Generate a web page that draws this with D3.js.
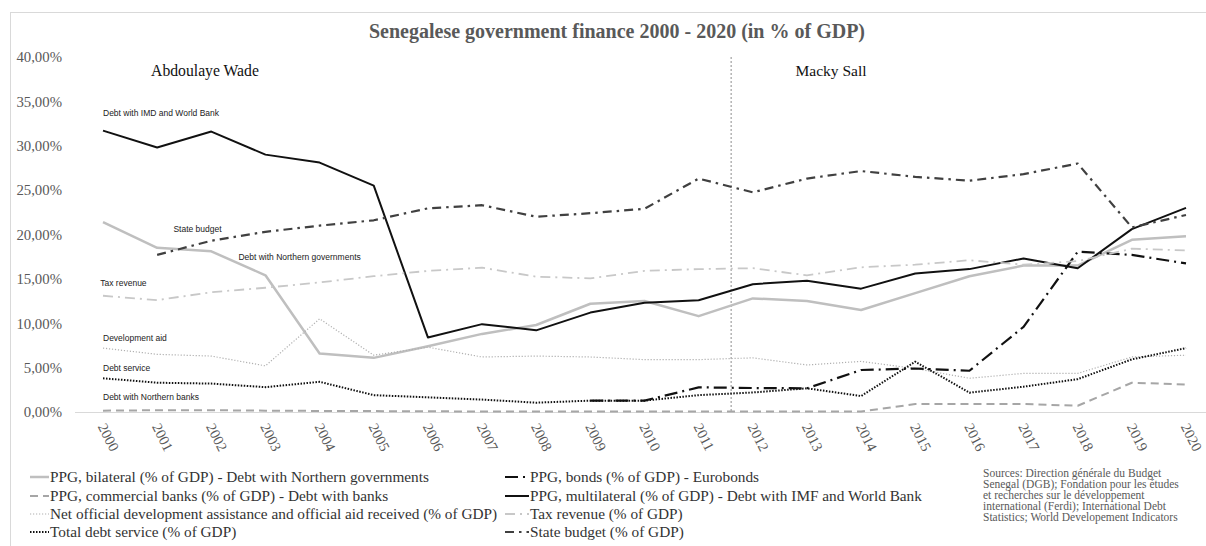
<!DOCTYPE html>
<html><head><meta charset="utf-8">
<script src="https://cdn.jsdelivr.net/npm/d3@7"></script>
<style>body{margin:0;background:#fff}svg{display:block}</style>
</head><body><svg id="c" width="1206" height="546"></svg>
<script>
const years = d3.range(2000, 2021);
const yTicks = [0, 5, 10, 15, 20, 25, 30, 35, 40];
const bilateral = [21.4,18.5,18.1,15.4,6.6,6.1,7.4,8.8,9.8,12.2,12.5,10.8,12.8,12.5,11.5,13.4,15.3,16.5,16.5,19.4,19.8];
const commercial = [0.15,0.2,0.2,0.15,0.12,0.1,0.08,0.06,0.05,0.05,0.05,0.05,0.05,0.05,0.05,0.9,0.9,0.9,0.7,3.3,3.1];
const devAid = [7.2,6.5,6.3,5.2,10.5,6.4,7.3,6.2,6.3,6.2,5.9,5.9,6.1,5.3,5.7,4.9,3.8,4.35,4.35,6.2,6.4];
const debtService = [3.8,3.3,3.2,2.8,3.4,1.9,1.65,1.4,1.05,1.28,1.28,1.9,2.2,2.67,1.8,5.67,2.18,2.85,3.7,5.93,7.2];
const eurobonds = [null,null,null,null,null,null,null,null,null,1.28,1.28,2.78,2.7,2.67,4.73,4.9,4.65,9.6,18.06,17.7,16.75];
const multilateral = [31.7,29.8,31.6,29.0,28.1,25.5,8.4,9.9,9.2,11.2,12.3,12.6,14.4,14.8,13.9,15.6,16.1,17.3,16.2,20.6,23.0];
const taxRevenue = [13.1,12.6,13.5,14.0,14.6,15.3,15.9,16.26,15.25,15.06,15.9,16.1,16.2,15.4,16.3,16.6,17.1,16.6,17.0,18.4,18.2];
const stateBudget = [null,17.7,19.3,20.3,21.0,21.6,22.95,23.3,22.0,22.4,22.9,26.3,24.75,26.3,27.15,26.5,26.06,26.8,28.0,20.8,22.2];

const seriesNames = [
  "PPG, bilateral (% of GDP) - Debt with Northern governments",
  "PPG, commercial banks (% of GDP) - Debt with banks",
  "Net official development assistance and official aid received (% of GDP)",
  "Total debt service (% of GDP)",
  "PPG, bonds (% of GDP) - Eurobonds",
  "PPG, multilateral (% of GDP) - Debt with IMF and World Bank",
  "Tax revenue (% of GDP)",
  "State budget (% of GDP)"
];
const annotations = [
  ["Debt with IMD and World Bank", 2000, 33.3],
  ["State budget", 2001.3, 20.3],
  ["Debt with Northern governments", 2002.5, 17.1],
  ["Tax revenue", 1999.95, 14.2],
  ["Development aid", 2000, 8.0],
  ["Debt service", 2000, 4.6],
  ["Debt with Northern banks", 2000, 1.3]
];
const sourcesLines = [
  "Sources: Direction générale  du Budget",
  "Senegal  (DGB); Fondation pour les études",
  "et recherches sur le développement",
  "international  (Ferdi); International  Debt",
  "Statistics; World Developement  Indicators"
];

const styles = [
  {data: bilateral, color:"#bfbfbf", w:2.5, dash:null},
  {data: commercial, color:"#a6a6a6", w:2, dash:"8,5"},
  {data: devAid, color:"#b0b0b0", w:1.2, dash:"1.2,1.8"},
  {data: debtService, color:"#111", w:2, dash:"1.5,1.5"},
  {data: eurobonds, color:"#111", w:2.2, dash:"13,5,2,5"},
  {data: multilateral, color:"#111", w:2, dash:null},
  {data: taxRevenue, color:"#c8c8c8", w:1.8, dash:"10,5,2,5"},
  {data: stateBudget, color:"#404040", w:2.2, dash:"9,5,2.5,5"}
];

const svg = d3.select("#c");
const serif = "'Liberation Serif','Times New Roman',serif";
const sans = "'Liberation Sans','Open Sans',sans-serif";
const grey = "#595959";

// border
svg.append("rect").attr("x",10.5).attr("y",12.5).attr("width",1300).attr("height",600)
  .attr("fill","none").attr("stroke","#d9d9d9");

const x = d3.scaleLinear().domain([2000,2020]).range([103,1186]);
const y = d3.scaleLinear().domain([0,40]).range([412,57]);

// title
svg.append("text").attr("x",617).attr("y",38).attr("text-anchor","middle")
  .attr("font-family",serif).attr("font-weight","bold").attr("font-size",20).attr("fill",grey)
  .text("Senegalese government finance 2000 - 2020 (in % of GDP)");

// y axis labels
const yAxis = d3.axisLeft(y).tickValues(yTicks).tickSize(0).tickPadding(0)
  .tickFormat(d => d3.format(".2f")(d).replace(".", ",") + "%");
const gy = svg.append("g").attr("transform","translate(62,0)").call(yAxis);
gy.select(".domain").remove();
gy.attr("font-family",serif);
gy.selectAll("text").attr("font-family",serif).attr("font-size",14.8).attr("fill",grey);

// x axis
svg.append("line").attr("x1",75).attr("x2",1206).attr("y1",y(0)+0.5).attr("y2",y(0)+0.5)
  .attr("stroke","#d9d9d9").attr("stroke-width",1);
const xAxis = d3.axisBottom(x).tickValues(years).tickSize(0).tickFormat(d3.format("d"));
const gx = svg.append("g").attr("transform",`translate(0,${y(0)})`).call(xAxis);
gx.select(".domain").remove();
gx.attr("font-family",serif);
gx.selectAll("text").attr("font-family",serif).attr("font-size",14.5).attr("fill",grey)
  .attr("text-anchor","start").attr("dy",null).attr("y",0)
  .attr("transform","translate(-3,13) rotate(63)").attr("dominant-baseline","middle");

// separator
svg.append("line").attr("x1",x(2011.6)).attr("x2",x(2011.6)).attr("y1",57).attr("y2",y(0))
  .attr("stroke","#8c8c8c").attr("stroke-width",1).attr("stroke-dasharray","2,2");

svg.append("text").attr("x",205).attr("y",76).attr("text-anchor","middle")
  .attr("font-family",serif).attr("font-size",15.7).attr("fill","#111").text("Abdoulaye Wade");
svg.append("text").attr("x",831).attr("y",76).attr("text-anchor","middle")
  .attr("font-family",serif).attr("font-size",15.5).attr("fill","#111").text("Macky Sall");

// lines
const line = d3.line().defined(d => d[1] != null).x(d => x(d[0])).y(d => y(d[1]));
styles.forEach(s => {
  svg.append("path").datum(years.map((yr,i)=>[yr, s.data[i]]))
    .attr("d", line).attr("fill","none").attr("stroke", s.color)
    .attr("stroke-width", s.w).attr("stroke-dasharray", s.dash)
    .attr("stroke-linejoin","round");
});

// annotations
annotations.forEach(a => {
  svg.append("text").attr("x", x(a[1])).attr("y", y(a[2]))
    .attr("font-family",sans).attr("font-size",8.5).attr("fill","#222").text(a[0]);
});

// legend
const legRows = [482, 501, 519, 537];
const legCols = [{sx:30, tx:50}, {sx:505, tx:530}];
const order = [[0,0,0],[1,0,1],[2,0,2],[3,0,3],[4,1,0],[5,1,1],[6,1,2],[7,1,3]];
order.forEach(([si,c,r]) => {
  const s = styles[si]; const col = legCols[c]; const ly = legRows[r];
  svg.append("line").attr("x1",col.sx).attr("x2",col.tx-1).attr("y1",ly-5).attr("y2",ly-5)
    .attr("stroke",s.color).attr("stroke-width",s.w).attr("stroke-dasharray",s.dash);
  svg.append("text").attr("x",col.tx).attr("y",ly).attr("font-family",serif)
    .attr("font-size",15.3).attr("fill","#333").text(seriesNames[si]);
});

// sources
sourcesLines.forEach((t,i) => {
  svg.append("text").attr("x",983).attr("y",477+i*11).attr("font-family",serif)
    .attr("font-size",11.5).attr("fill",grey).text(t);
});
</script></body></html>
